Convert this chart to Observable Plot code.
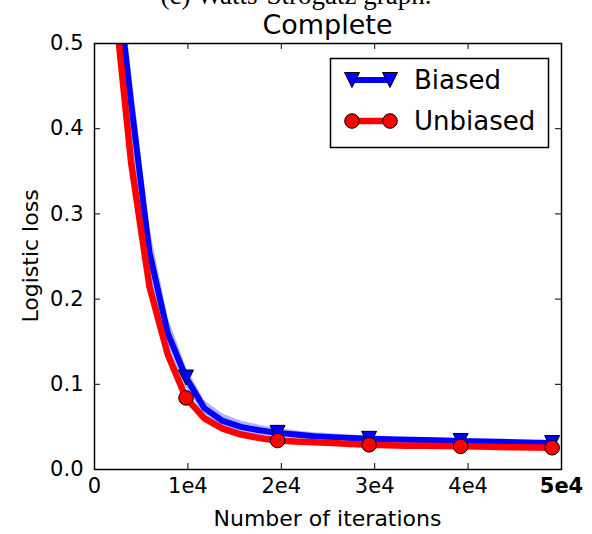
<!DOCTYPE html>
<html><head><meta charset="utf-8">
<script src="https://cdn.jsdelivr.net/npm/d3@7"></script>
<script src="https://cdn.jsdelivr.net/npm/@observablehq/plot@0.6"></script>
<style>
body{margin:0;background:#fff;}
#wrap{position:relative;width:592px;height:534px;overflow:hidden;font-family:"DejaVu Sans",sans-serif;background:#fff;}
#wrap svg{position:absolute;left:0;top:0;}
.t{position:absolute;white-space:nowrap;color:#000;}
</style></head><body><div id="wrap"></div>
<script>
const iterations=[0,1960,3920,5880,7840,9800,11760,13720,15680,17640,19600,21560,23520,25480,27440,29400,31360,33320,35280,37240,39200,41160,43120,45080,47040,49000];
const biased=[0.69,0.62,0.43,0.255,0.16,0.108,0.072,0.057,0.050,0.046,0.043,0.041,0.039,0.038,0.037,0.036,0.0355,0.035,0.0345,0.034,0.0335,0.033,0.0325,0.032,0.0315,0.031];
const biasedSpread=[0.04,0.045,0.04,0.03,0.02,0.012,0.009,0.008,0.007,0.006,0.005,0.0045,0.004,0.004,0.0035,0.0035,0.003,0.003,0.003,0.003,0.003,0.003,0.003,0.003,0.003,0.003];
const unbiased=[0.69,0.57,0.36,0.215,0.135,0.084,0.060,0.048,0.041,0.037,0.034,0.033,0.032,0.031,0.030,0.029,0.0285,0.028,0.0278,0.0275,0.0272,0.027,0.0265,0.026,0.0258,0.0255];
const xTicks=[0,10000,20000,30000,40000,50000];
const xTickLabels=["0","1e4","2e4","3e4","4e4","5e4"];
const yTicks=[0,0.1,0.2,0.3,0.4,0.5];
const yTickLabels=["0.0","0.1","0.2","0.3","0.4","0.5"];
const markerEvery=5;
const seriesNames=["Biased","Unbiased"];
const seriesColors=["#0000ff","#ff0000"];
const titleText="Complete";
const cutTitleText="(c) Watts-Strogatz graph.";
const xLabelText="Number of iterations";
const yLabelText="Logistic loss";

const triDown={draw(ctx,size){const a=Math.sqrt(size/Math.PI);ctx.moveTo(0,a);ctx.lineTo(-a,-a);ctx.lineTo(a,-a);ctx.closePath();}};

const rows=iterations.map((x,i)=>({x,i,b:biased[i],lo:biased[i]-biasedSpread[i],hi:biased[i]+biasedSpread[i],u:unbiased[i]}));
const markRows=rows.filter(d=>d.i>0&&d.i%markerEvery===0);
const xMax=50000,yMax=0.5;

const plot=Plot.plot({
  width:592,height:534,marginLeft:94,marginRight:31,marginTop:43,marginBottom:65,
  x:{domain:[0,xMax]},y:{domain:[0,yMax]},
  style:{fontFamily:"DejaVu Sans",fontSize:"21px",color:"black",background:"white",overflow:"visible"},
  marks:[
    Plot.areaY(rows,{x:"x",y1:"lo",y2:"hi",fill:seriesColors[0],fillOpacity:0.3,clip:true}),
    Plot.lineY(rows,{x:"x",y:"b",stroke:seriesColors[0],strokeWidth:6,clip:true}),
    Plot.dot(markRows,{x:"x",y:"b",symbol:triDown,r:7.5,fill:seriesColors[0],stroke:"black",strokeWidth:1}),
    Plot.lineY(rows,{x:"x",y:"u",stroke:seriesColors[1],strokeWidth:6.5,clip:true}),
    Plot.dot(markRows,{x:"x",y:"u",r:7.3,fill:seriesColors[1],stroke:"black",strokeWidth:1}),
    Plot.ruleX(xTicks,{x:d=>d,y1:0,y2:0.007,stroke:"black",strokeWidth:1}),
    Plot.ruleX(xTicks,{x:d=>d,y1:yMax,y2:yMax-0.007,stroke:"black",strokeWidth:1}),
    Plot.ruleY(yTicks,{y:d=>d,x1:0,x2:640,stroke:"black",strokeWidth:1}),
    Plot.ruleY(yTicks,{y:d=>d,x1:xMax,x2:xMax-640,stroke:"black",strokeWidth:1}),
    Plot.axisX({ticks:xTicks,tickFormat:d=>xTickLabels[xTicks.indexOf(d)],tickSize:0,tickPadding:9,label:null,fontSize:21}),
    Plot.axisY({ticks:yTicks,tickFormat:d=>yTickLabels[yTicks.indexOf(d)],tickSize:0,tickPadding:11,label:null,fontSize:21}),
    Plot.frame({stroke:"black",strokeWidth:1.5})
  ]
});
const wrap=document.getElementById("wrap");
wrap.appendChild(plot);
d3.select(plot).selectAll('g[aria-label="x-axis tick label"] text').filter(function(){return this.textContent===xTickLabels[xTickLabels.length-1];}).attr("font-weight","bold");

function addText(txt,css){const d=document.createElement("div");d.className="t";d.textContent=txt;Object.assign(d.style,css);wrap.appendChild(d);return d;}
addText(cutTitleText,{left:"0",width:"592px",textAlign:"center",top:"-20px",fontFamily:"'Liberation Serif',serif",fontSize:"27px"});
addText(titleText,{left:"94px",width:"467px",textAlign:"center",top:"9px",fontSize:"27px"});
addText(xLabelText,{left:"94px",width:"467px",textAlign:"center",top:"506px",fontSize:"22px"});
addText(yLabelText,{left:"30px",top:"256px",fontSize:"22px",transform:"translate(-50%,-50%) rotate(-90deg)"});

// legend
const lg=d3.select(wrap).append("svg").attr("width",592).attr("height",534).style("position","absolute").style("left",0).style("top",0);
lg.append("rect").attr("x",330.5).attr("y",58.5).attr("width",218).attr("height",89).attr("fill","white").attr("stroke","black").attr("stroke-width",1.5);
const rowsY=[80,121];
seriesNames.forEach((name,k)=>{
  const g=lg.append("g");
  const y=rowsY[k];
  g.append("line").attr("x1",352).attr("x2",390).attr("y1",y).attr("y2",y).attr("stroke",seriesColors[k]).attr("stroke-width",k===0?6:6.5);
  [352,390].forEach(x=>{
    if(k===0){g.append("path").attr("d",`M${x},${y+7.5}L${x-7.5},${y-7.5}L${x+7.5},${y-7.5}Z`).attr("fill",seriesColors[k]).attr("stroke","black");}
    else{g.append("circle").attr("cx",x).attr("cy",y).attr("r",7.3).attr("fill",seriesColors[k]).attr("stroke","black");}
  });
  g.append("text").attr("x",414).attr("y",y+9).attr("font-family","DejaVu Sans").attr("font-size",26).text(name);
});
</script></body></html>
